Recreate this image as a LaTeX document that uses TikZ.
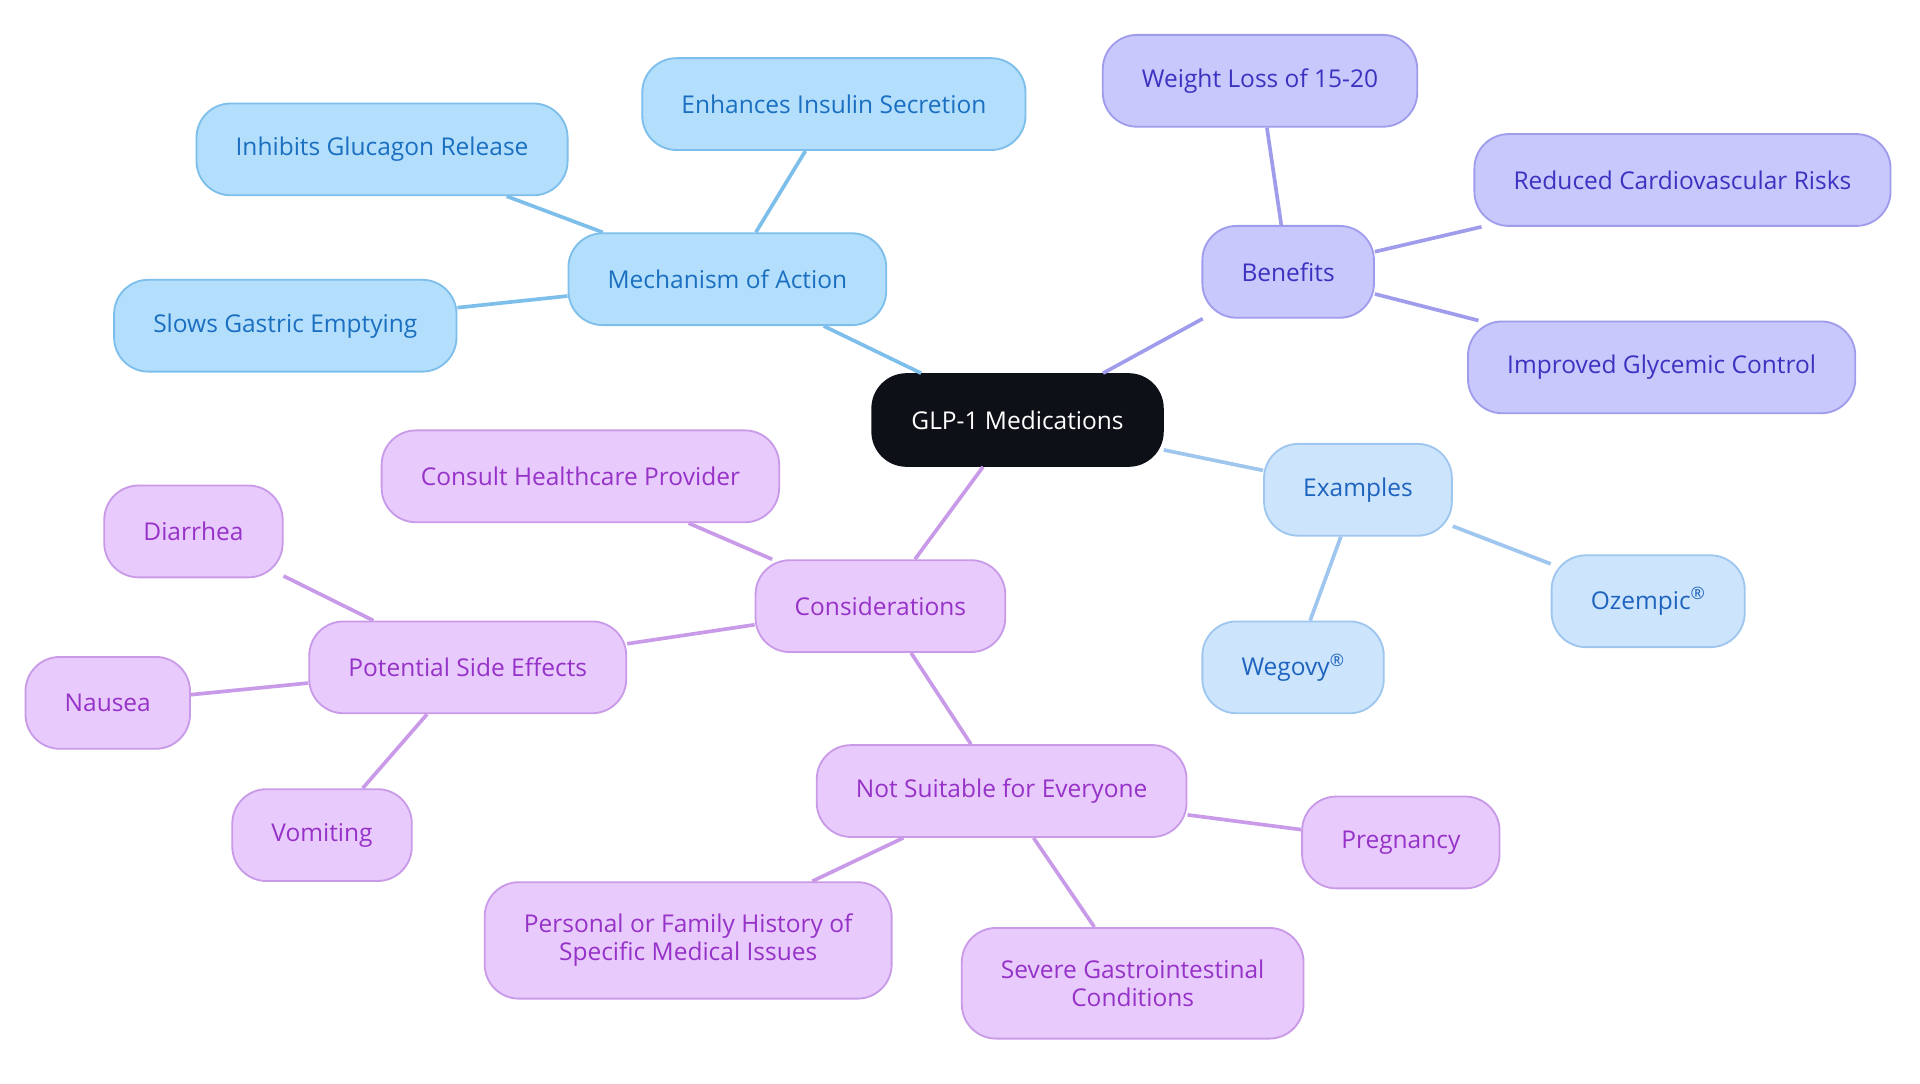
\documentclass[tikz,border=0pt]{standalone}
\usepackage{fontspec}
\setmainfont{Open Sans}
\definecolor{hubfill}{HTML}{0D1117}
\definecolor{mechfill}{HTML}{B3DFFD}
\definecolor{mechline}{HTML}{7DBEEB}
\definecolor{mechtext}{HTML}{1A6FC0}
\definecolor{benefill}{HTML}{C8C8FC}
\definecolor{beneline}{HTML}{A09CEC}
\definecolor{benetext}{HTML}{3C32C0}
\definecolor{exfill}{HTML}{CCE4FC}
\definecolor{exline}{HTML}{9EC6EE}
\definecolor{extext}{HTML}{1E64BE}
\definecolor{consfill}{HTML}{E8CBFC}
\definecolor{consline}{HTML}{C99AE8}
\definecolor{constext}{HTML}{9632C8}
\tikzset{
  bubble/.style={rectangle, rounded corners=28pt, minimum height=75pt, inner xsep=32pt,
    inner ysep=26pt, line width=1.5pt, align=center, font=\fontsize{20}{23}\selectfont},
  hub/.style={bubble, fill=hubfill, draw=hubfill, text=white},
  mech/.style={bubble, fill=mechfill, draw=mechline, text=mechtext},
  bene/.style={bubble, fill=benefill, draw=beneline, text=benetext},
  ex/.style={bubble, fill=exfill, draw=exline, text=extext},
  cons/.style={bubble, fill=consfill, draw=consline, text=constext},
  link/.style={line width=3pt}
}
\begin{document}
\begin{tikzpicture}[x=1pt,y=-1pt]
\useasboundingbox (0,0) rectangle (1568,885);
\node[hub] (glp) at (831,343) {GLP-1 Medications};
\node[mech] (mech) at (594,228) {Mechanism of Action};
\node[mech] (insulin) at (681,85) {Enhances Insulin Secretion};
\node[mech] (glucagon) at (312,122) {Inhibits Glucagon Release};
\node[mech] (gastric) at (233,266) {Slows Gastric Emptying};
\node[bene] (bene) at (1052,222) {Benefits};
\node[bene] (weight) at (1029,66) {Weight Loss of 15-20};
\node[bene] (cardio) at (1374,147) {Reduced Cardiovascular Risks};
\node[bene] (glyc) at (1357,300) {Improved Glycemic Control};
\node[ex] (ex) at (1109,400) {Examples};
\node[ex] (ozem) at (1346,491) {Ozempic\textsuperscript{®}};
\node[ex] (wego) at (1056,545) {Wegovy\textsuperscript{®}};
\node[cons] (cons) at (719,495) {Considerations};
\node[cons] (consult) at (474,389) {Consult Healthcare Provider};
\node[cons] (side) at (382,545) {Potential Side Effects};
\node[cons] (diarr) at (158,434) {Diarrhea};
\node[cons] (nausea) at (88,574) {Nausea};
\node[cons] (vomit) at (263,682) {Vomiting};
\node[cons] (notsuit) at (818,646) {Not Suitable for Everyone};
\node[cons] (preg) at (1144,688) {Pregnancy};
\node[cons] (hist) at (562,768) {Personal or Family History of\\Specific Medical Issues};
\node[cons] (gastro) at (925,803) {Severe Gastrointestinal\\Conditions};
\foreach \a/\b in {glp/mech, mech/insulin, mech/glucagon, mech/gastric}
  \draw[link, mechline] (\a) -- (\b);
\foreach \a/\b in {glp/bene, bene/weight, bene/cardio, bene/glyc}
  \draw[link, beneline] (\a) -- (\b);
\foreach \a/\b in {glp/ex, ex/ozem, ex/wego}
  \draw[link, exline] (\a) -- (\b);
\foreach \a/\b in {glp/cons, cons/consult, cons/side, side/diarr, side/nausea, side/vomit, cons/notsuit, notsuit/preg, notsuit/hist, notsuit/gastro}
  \draw[link, consline] (\a) -- (\b);
\end{tikzpicture}
\end{document}
